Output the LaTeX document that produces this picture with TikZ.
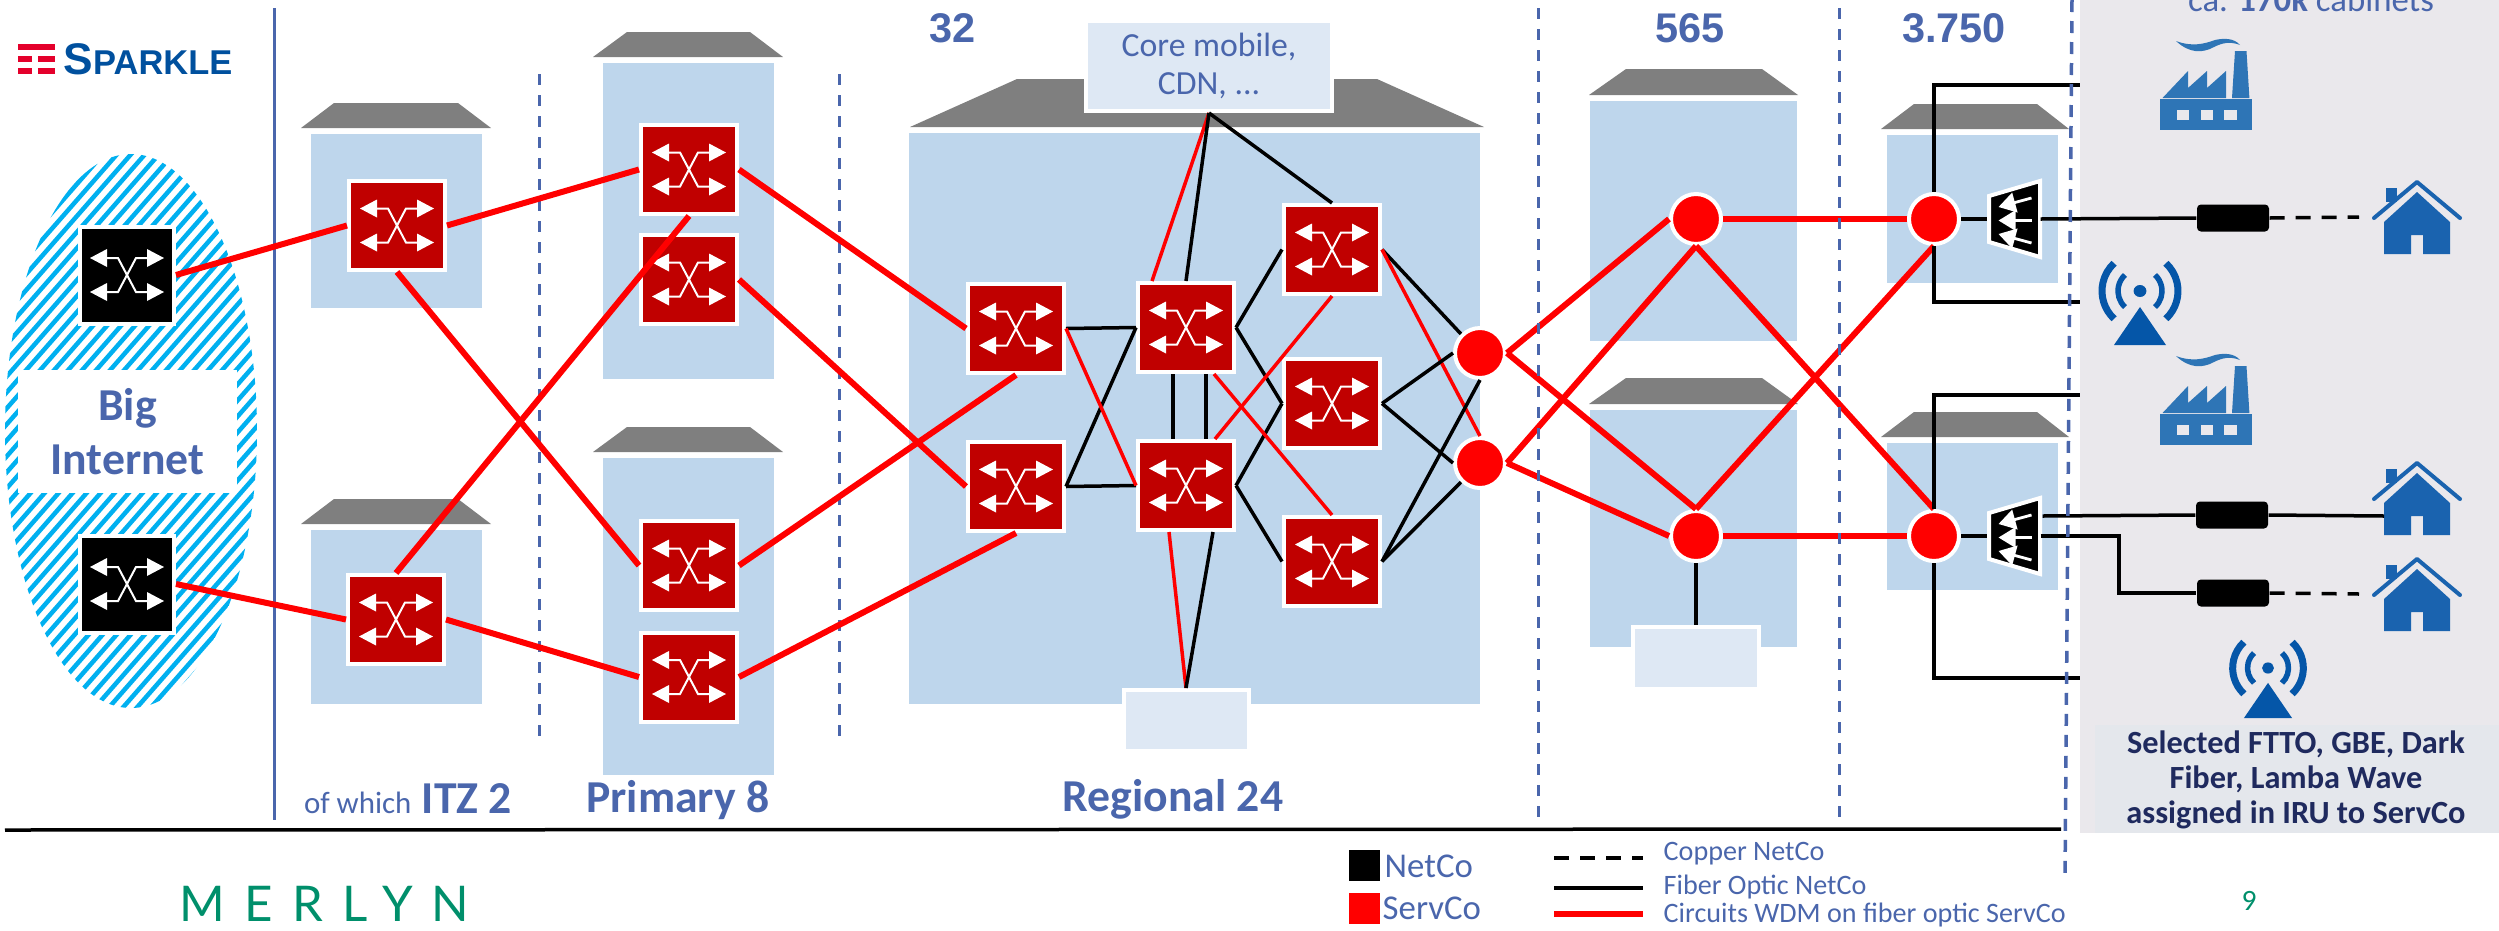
\documentclass[tikz,border=0pt]{standalone}
\usepackage{fontspec}
\usetikzlibrary{arrows.meta}
\setmainfont{Carlito}
\newfontfamily\numfont{Liberation Sans}
\newfontfamily\brandfont{Lato}
\definecolor{lineblue}{HTML}{4A66AC}
\definecolor{buildblue}{HTML}{BED6EC}
\definecolor{roofgrey}{HTML}{7F7F7F}
\definecolor{boxblue}{HTML}{DEE8F4}
\definecolor{panelgrey}{HTML}{EAE8EC}
\definecolor{noteblue}{HTML}{E4E7EC}
\definecolor{notetext}{HTML}{1F2A5E}
\definecolor{servred}{HTML}{C00000}
\definecolor{hatchblue}{HTML}{00B0F0}
\definecolor{factoryblue}{HTML}{2E75B6}
\definecolor{houseblue}{HTML}{1A63AF}
\definecolor{antennablue}{HTML}{0556A8}
\definecolor{merlyngreen}{HTML}{008F6B}
\definecolor{sparkleblue}{HTML}{00509E}
\definecolor{sparklered}{HTML}{E4002B}
\newcommand{\switchglyph}{%
    \begin{scope}[shift={(path picture bounding box.center)}]
        \draw[white, line width=0.2mm] (-28,-17) -- (-9,-17) -- (9,17) -- (28,17);
        \draw[white, line width=0.2mm] (-28,17) -- (-9,17) -- (9,-17) -- (28,-17);
        \foreach \sx in {-1,1}
        \foreach \sy in {-1,1}
        {\fill[white] (\sx*37,\sy*17) -- (\sx*20,\sy*17+9) -- (\sx*20,\sy*17-9) -- cycle;}
    \end{scope}}
\tikzset{
    servco/.style={draw=white, line width=0.4mm, fill=servred, inner sep=0, minimum width=9.6mm, minimum height=8.9mm, path picture={\switchglyph}},
    netco/.style={draw=white, line width=0.4mm, fill=black, inner sep=0, minimum width=9.4mm, minimum height=9.7mm, path picture={\switchglyph}},
    wdmdot/.style={circle, draw=white, line width=0.4mm, fill=red, inner sep=0, minimum size=5mm},
    siteboxs/.style={draw=white, line width=0.4mm, fill=boxblue, inner sep=0},
    cablebox/.style={fill=black, rounded corners=0.4mm, inner sep=0, minimum width=7.2mm, minimum height=2.7mm},
    legendbox/.style={inner sep=0, minimum width=3.1mm, minimum height=3.1mm},
    wdm/.style={red, line width=0.6mm},
    wdmthin/.style={red, line width=0.35mm},
    fibre/.style={black, line width=0.35mm},
    copper/.style={black, line width=0.35mm, dash pattern=on 1.5mm off 1.1mm},
    divider/.style={lineblue, line width=0.3mm, dash pattern=on 1.1mm off 1mm},
    headlabel/.style={text=lineblue, font=\fontsize{13}{14}\selectfont\bfseries},
    countlabel/.style={text=lineblue, font=\fontsize{11.8}{13}\numfont\bfseries},
    smalllabel/.style={text=lineblue, font=\fontsize{8}{9}\selectfont, anchor=west},
    splitter/.pic={
        \draw[white, line width=0.4mm, fill=black] (-25.5,-23) -- (25.5,-38) -- (25.5,38) -- (-25.5,23) -- cycle;
        \foreach \ty/\hy in {-21/-12,1.5/1.5,24/15}
        {\draw[white, line width=0.28mm, -{Triangle[length=1.7mm,width=2mm]}] (17,\ty) -- (-16,\hy);}
        \coordinate (-in) at (-27.5,0);
        \coordinate (-outa) at (28,-20);
        \coordinate (-outb) at (26,0);
    },
    house/.pic={
        \fill[houseblue] (-33,34) -- (-33,2) -- (0,-28) -- (33,2) -- (33,34) -- (6,34) -- (6,15) -- (-6,15) -- (-6,34) -- cycle;
        \fill[houseblue] (-31,-32) rectangle (-20,-18);
        \draw[houseblue, line width=0.4mm, line cap=round, line join=round] (-43,-2) -- (0,-38) -- (43,-2);
        \coordinate (-in) at (-33,15);
        \coordinate (-drop) at (-58,-3);
    },
    factory/.pic={
        \fill[factoryblue] (-46,-16) rectangle (46,15);
        \fill[panelgrey] (-29,-5) rectangle (-17,5);
        \fill[panelgrey] (-5.4,-5) rectangle (7,5);
        \fill[panelgrey] (18,-5) rectangle (31,5);
        \fill[factoryblue] (-43.5,-17) -- (-18,-44) -- (-18,-27) -- (1,-44) -- (1,-27) -- (20,-44) -- (20,-17) -- cycle;
        \fill[factoryblue] (26,-17) -- (29,-64) -- (40.5,-64) -- (43.4,-17) -- cycle;
        \fill[factoryblue] (-30,-74) .. controls (-14,-68) and (-2,-71) .. (9,-75) .. controls (18,-77) and (28,-77) .. (34,-70) .. controls (24,-74) and (16,-72) .. (8,-68) .. controls (-3,-62) and (-16,-61) .. (-30,-74);
    },
    antenna/.pic={
        \fill[antennablue] (0,0) ellipse (6.4 and 6);
        \draw[antennablue, line width=0.7mm] (133:38) arc (133:227:38);
        \draw[antennablue, line width=0.7mm] (47:38) arc (47:-47:38);
        \draw[antennablue, line width=0.55mm] (133:22) arc (133:227:22);
        \draw[antennablue, line width=0.55mm] (47:22) arc (47:-47:22);
        \fill[antennablue] (0,16) -- (26,54) -- (-26,54) -- cycle;
    },
}
\begin{document}
\begin{tikzpicture}[x=0.1mm, y=-0.1mm]
    \useasboundingbox (0,0) rectangle (2499,931);

    \fill[panelgrey] (2080,0) rectangle (2499,833);
    \fill[noteblue] (2095,725) rectangle (2499,833);

    % big internet cloud
    \begin{scope}
        \clip (131,431) ellipse (126 and 277);
        \foreach \i in {-37,...,20}
        {\draw[hatchblue, line width=0.45mm] (\i*14, 720) -- ++(630, -720);}
    \end{scope}
    \node[fill=white, inner sep=0, minimum width=21.9mm, minimum height=12.3mm, align=center, text=lineblue, font=\fontsize{13}{15.4}\selectfont\bfseries] (bignet) at (127.5, 431.5) {Big\\Internet};

    % buildings
    \foreach \xa/\xb/\ya/\yb/\rl/\rr/\tl/\tr/\th in {311/482/134/308/301/491/334/458/25, 311/482/530/704/301/491/334/458/25, 603/774/63/379/593/783/627/750/25, 603/774/458/775/593/783/627/750/25, 909/1480/133/704/910/1484/1017/1377/48, 1590/1797/101/341/1589/1798/1626/1762/26, 1590/1797/410/647/1589/1798/1626/1762/26, 1887/2058/135/283/1881/2069/1914/2037/25, 1887/2058/443/590/1881/2069/1914/2037/25}
    {\fill[buildblue] (\xa, \ya) rectangle (\xb, \yb);
    \fill[roofgrey] (\rl, \ya-6) -- (\tl, \ya-6-\th) -- (\tr, \ya-6-\th) -- (\rr, \ya-6) -- cycle;}

    \draw[lineblue, line width=0.3mm] (274, 8) -- (274, 820);
    \draw[black, line width=0.35mm] (5, 830) -- (2061, 829);
    \draw[divider] (539, 74) -- (539, 738);
    \draw[divider] (839, 74) -- (839, 738);

    % switches
    \node[netco] (gwa) at (127, 275) {};
    \node[netco] (gwb) at (127, 584) {};
    \node[servco] (itza) at (397, 225.5) {};
    \node[servco] (itzb) at (396, 619.5) {};
    \node[servco] (pria) at (689, 169.5) {};
    \node[servco] (prib) at (689, 279.5) {};
    \node[servco] (pric) at (689, 565.5) {};
    \node[servco] (prid) at (689, 677) {};
    \node[servco] (rega) at (1016, 328.5) {};
    \node[servco] (regb) at (1016, 486.5) {};
    \node[servco] (cora) at (1186, 327.5) {};
    \node[servco] (corb) at (1186, 485.5) {};
    \node[servco] (aggb) at (1332, 403.5) {};
    \node[servco] (agga) at (1332, 249.5) {};
    \node[servco] (aggc) at (1332, 561.5) {};
    \node[wdmdot] (edga) at (1480, 353) {};
    \node[wdmdot] (edgb) at (1480, 463) {};
    \node[wdmdot] (meta) at (1696, 219) {};
    \node[wdmdot] (metb) at (1696, 536) {};
    \node[wdmdot] (acca) at (1934, 219) {};
    \node[wdmdot] (accb) at (1934, 536) {};

    % side boxes
    \node[siteboxs, minimum width=24.6mm, minimum height=9mm, align=center, text=lineblue, font=\fontsize{9.6}{10.8}\selectfont] (corebox) at (1209, 66) {Core mobile,\\CDN, ...};
    \node[siteboxs, minimum width=12.5mm, minimum height=6.1mm] (regbox) at (1186, 720.5) {};
    \node[siteboxs, minimum width=12.6mm, minimum height=6.2mm] (metbox) at (1696, 658) {};

    % circuits
    \draw[wdm] (gwa.east) -- (itza.west);
    \draw[wdm] (gwb.east) -- (itzb.west);
    \draw[wdm] (itza.east) -- (pria.west);
    \draw[wdm] (itza.south) -- (pric.west);
    \draw[wdm] (itzb.north) -- (pria.south);
    \draw[wdm] (itzb.east) -- (prid.west);
    \draw[wdm] (pria.east) -- (rega.west);
    \draw[wdm] (prib.east) -- (regb.west);
    \draw[wdm] (pric.east) -- (rega.south);
    \draw[wdm] (prid.east) -- (regb.south);

    \draw[fibre] (rega.east) -- (cora.west);
    \draw[fibre] (regb.east) -- (cora.west);
    \draw[fibre] (regb.east) -- (corb.west);
    \draw[wdmthin] (rega.east) -- (corb.west);
    \draw[fibre] ([xshift=-1.3mm]cora.south) -- ([xshift=-1.3mm]corb.north);
    \draw[fibre] ([xshift=2mm]cora.south) -- ([xshift=2mm]corb.north);
    \draw[wdmthin] (corebox.south) -- ([xshift=-3.4mm]cora.north);
    \draw[fibre] (corebox.south) -- (cora.north);
    \draw[fibre] (corebox.south) -- (agga.north);
    \draw[fibre] (cora.east) -- (agga.west);
    \draw[fibre] (cora.east) -- (aggb.west);
    \draw[fibre] (corb.east) -- (aggb.west);
    \draw[fibre] (corb.east) -- (aggc.west);
    \draw[wdmthin] (agga.south) -- ([xshift=2.9mm]corb.north);
    \draw[wdmthin] ([xshift=2.8mm]cora.south) -- (aggc.north);
    \draw[wdmthin] ([xshift=-1.7mm]corb.south) -- (regbox.north);
    \draw[fibre] ([xshift=2.7mm]corb.south) -- (regbox.north);
    \draw[fibre] (agga.east) -- (edga.north west);
    \draw[wdmthin] (agga.east) -- (edgb.north);
    \draw[fibre] (aggb.east) -- (edga.west);
    \draw[fibre] (aggb.east) -- (edgb.west);
    \draw[fibre] (aggc.east) -- (edga.south);
    \draw[fibre] (aggc.east) -- (edgb.south west);

    \draw[wdm] (edga.east) -- (meta.west);
    \draw[wdm] (edga.east) -- (metb.north);
    \draw[wdm] (edgb.east) -- (meta.south);
    \draw[wdm] (edgb.east) -- (metb.west);
    \draw[wdm] (meta.east) -- (acca.west);
    \draw[wdm] (metb.east) -- (accb.west);
    \draw[wdm] (meta.south) -- (accb.north);
    \draw[wdm] (metb.north) -- (acca.south);
    \draw[fibre] (metb.south) -- (metbox.north);

    % access side
    \coordinate (edgetopa) at (2080, 85);
    \coordinate (edgelowa) at (2080, 302);
    \coordinate (edgetopb) at (2080, 395);
    \coordinate (edgelowb) at (2080, 678);
    \draw[fibre] (acca.north) |- (edgetopa);
    \draw[fibre] (acca.south) |- (edgelowa);
    \draw[fibre] (accb.north) |- (edgetopb);
    \draw[fibre] (accb.south) |- (edgelowb);

    \pic (housea) at (2417, 220) {house};
    \pic (houseb) at (2417, 501) {house};
    \pic (housec) at (2417, 597) {house};
    \pic at (2206, 115) {factory};
    \pic at (2206, 430) {factory};
    \pic at (2140, 291) {antenna};
    \pic[scale=0.93] at (2268, 668) {antenna};

    \node[cablebox] (cabla) at (2233, 218) {};
    \node[cablebox] (cablb) at (2232, 515) {};
    \node[cablebox] (cablc) at (2233, 593) {};

    \draw[fibre] (acca.east) -- (2000, 219);
    \draw[fibre] (accb.east) -- (2000, 536);
    \pic (splita) at (2014.5, 219) {splitter};
    \pic (splitb) at (2014.5, 536) {splitter};
    \draw[fibre] (splita-outb) -- (cabla.west);
    \draw[copper] (cabla.east) -- (housea-drop);
    \draw[fibre] (splitb-outa) -- (cablb.west);
    \draw[fibre] (cablb.east) -- (houseb-in);
    \draw[fibre] (splitb-outb) -| (2119, 593) -- (cablc.west);
    \draw[copper] (cablc.east) -- (housec-drop);

    \draw[divider] (1538, 8) -- (1538, 819);
    \draw[divider] (1839, 8) -- (1839, 819);
    \draw[lineblue, line width=0.35mm, dash pattern=on 1.2mm off 0.9mm] (2072, 0) -- (2065, 880);

    % labels
    \node[countlabel] (cnta) at (953, 28) {32};
    \node[countlabel] (cntb) at (1690, 28) {565};
    \node[countlabel] (cntc) at (1954, 28) {3.750};
    \node[headlabel, anchor=base] (itzlab) at (408, 813) {{\mdseries\fontsize{8.8}{10}\selectfont of which} ITZ 2};
    \node[headlabel, anchor=base] (prilab) at (678, 812) {Primary 8};
    \node[headlabel, anchor=base] (reglab) at (1173, 811) {Regional 24};
    \node[anchor=base, text=lineblue, font=\fontsize{9.9}{11}\selectfont] (cablab) at (2311, 11) {ca. \textbf{170k} cabinets};
    \node[align=center, text=notetext, font=\fontsize{9.2}{10}\selectfont\bfseries] (notelab) at (2296, 780) {Selected FTTO, GBE, Dark\\Fiber, Lamba Wave\\assigned in IRU to ServCo};

    % legend
    \node[legendbox, fill=black] (netsq) at (1364.5, 865.5) {};
    \node[legendbox, fill=red] (servsq) at (1364.5, 908.5) {};
    \node[smalllabel, font=\fontsize{9.9}{11}\selectfont, inner sep=0] (netlab) at (1384, 866) {NetCo};
    \node[smalllabel, font=\fontsize{9.9}{11}\selectfont, inner sep=0] (servlab) at (1382, 908) {ServCo};
    \draw[copper] (1554, 858) -- (1643, 858);
    \draw[fibre] (1554, 888) -- (1643, 888);
    \draw[wdm] (1554, 914) -- (1643, 914);
    \node[smalllabel, inner sep=0] (coplab) at (1663, 854) {Copper NetCo};
    \node[smalllabel, inner sep=0] (fiblab) at (1663, 887) {Fiber Optic NetCo};
    \node[smalllabel, inner sep=0] (cirlab) at (1663, 915) {Circuits WDM on fiber optic ServCo};
    \node[text=merlyngreen, font=\fontsize{8.4}{9}\selectfont] (pagelab) at (2249, 901) {9};

    % logos
    \fill[sparklered] (18, 44) rectangle (55, 50);
    \foreach \y in {56,68}
    {\fill[sparklered] (18, \y) rectangle (32, \y+6);
    \fill[sparklered] (38, \y) rectangle (55, \y+6);}
    \node[anchor=base west, inner sep=0, text=sparkleblue, font=\fontsize{9.8}{10}\numfont\bfseries] (sparklelab) at (63, 74) {{\fontsize{12.6}{10}\selectfont S}PARKLE};
    \node[anchor=base west, inner sep=0, text=merlyngreen, font=\fontsize{14}{16}\brandfont\addfontfeature{LetterSpace=39}] (merlynlab) at (179, 921) {MERLYN};
\end{tikzpicture}
\end{document}
